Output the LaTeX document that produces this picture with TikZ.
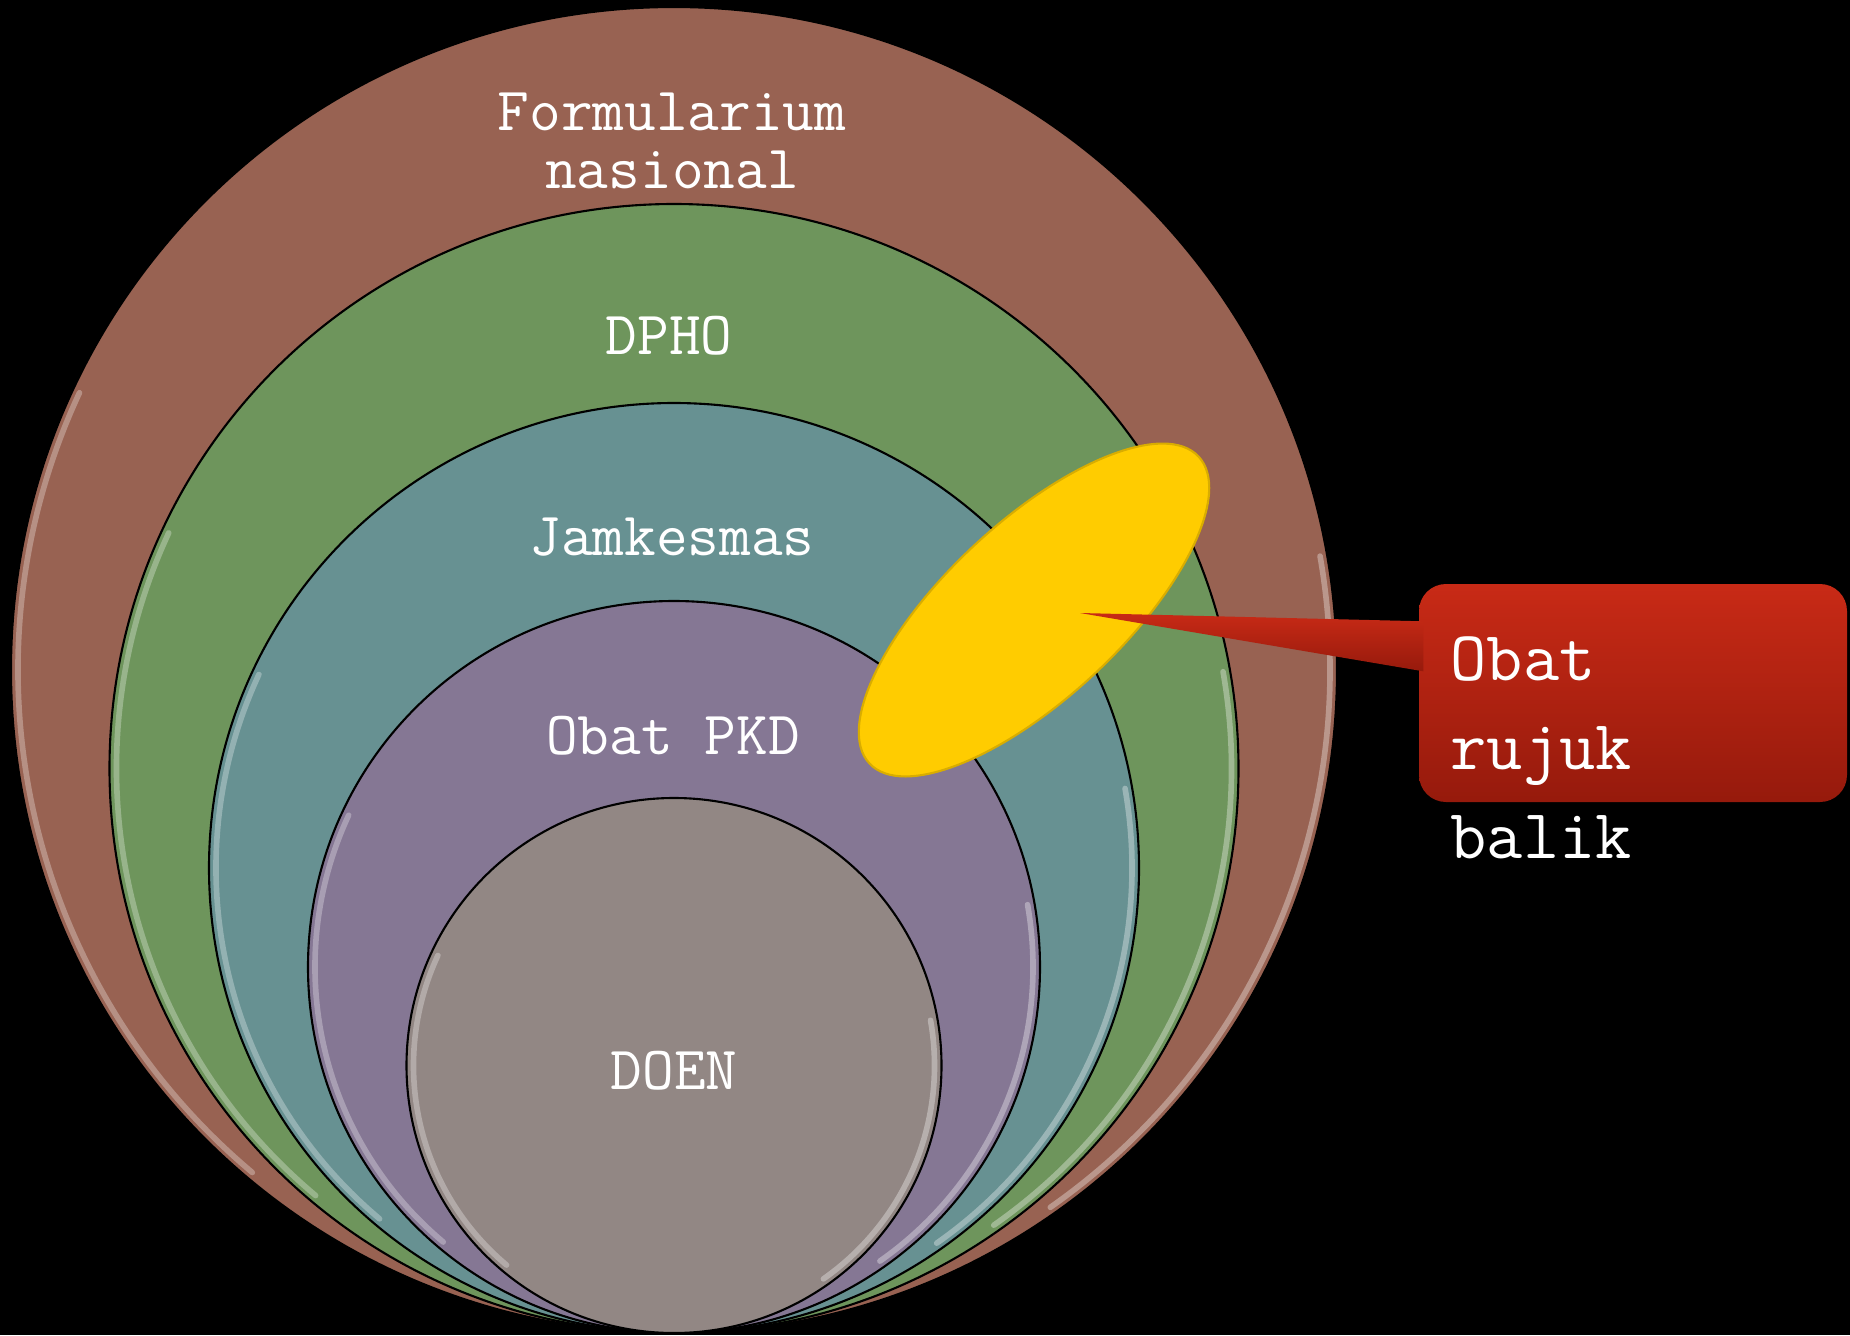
\documentclass[tikz,border=0pt]{standalone}
\usepackage{tikz}
\usetikzlibrary{positioning}
\usetikzlibrary{shapes.geometric}
\usetikzlibrary{calc}

\definecolor{fornasbrown}{RGB}{152,98,82}
\definecolor{dphogreen}{RGB}{110,149,92}
\definecolor{jamkesteal}{RGB}{103,145,146}
\definecolor{pkdpurple}{RGB}{133,119,148}
\definecolor{doengray}{RGB}{146,135,132}
\definecolor{rbyellow}{RGB}{255,204,0}
\definecolor{rbredtop}{RGB}{200,42,22}
\definecolor{rbredbot}{RGB}{150,26,12}

\tikzset{
  rim/.style={line width=1.6pt,opacity=0.45,line cap=round},
  lbl/.style={text=white,inner sep=0pt,font=\fontsize{17.5}{16.5}\selectfont\ttfamily},
  rblbl/.style={text=white,inner sep=0pt,align=left,font=\fontsize{20}{25.3}\selectfont\ttfamily}
}

\begin{document}
\begin{tikzpicture}
    \fill[black] (0,0) rectangle (18.5,13.35);
    \useasboundingbox (0,0) rectangle (18.5,13.35);
	\foreach \r/\c in {6.63/fornasbrown,5.645/dphogreen,4.65/jamkesteal,3.66/pkdpurple,2.675/doengray} % circles touch at the bottom
	{
	\pgfmathsetmacro\cy{0.02+\r}
	\pgfmathsetmacro\rr{\r-0.07}
	\filldraw[fill=\c,draw=black,line width=0.6pt] (6.74,\cy) circle (\r);
	\draw[rim,\c!35!white] (6.74,\cy) ++(155:\rr) arc[start angle=155,end angle=230,radius=\rr];
	\draw[rim,\c!25!white] (6.74,\cy) ++(-55:\rr) arc[start angle=-55,end angle=10,radius=\rr];
	}
	\node[lbl,align=center,anchor=base] (fornas) at (6.72,11.47) {Formularium\\nasional};
	\node[lbl,anchor=base] (dpho) at (6.69,9.81) {DPHO};
	\node[lbl,anchor=base] (jamkes) at (6.72,7.80) {Jamkesmas};
	\node[lbl,anchor=base] (pkd) at (6.73,5.81) {Obat PKD};
	\node[lbl,anchor=base] (doen) at (6.74,2.46) {DOEN};
	\node[ellipse,fill=rbyellow,draw=rbyellow!85!black,line width=0.6pt,minimum width=4.5cm,minimum height=1.76cm,inner sep=0pt,rotate=43] (rb) at (10.34,7.25) {};
	\node[rounded corners=0.27cm,top color=rbredtop,bottom color=rbredbot,minimum width=4.28cm,minimum height=2.18cm,inner sep=0pt] (box) at (16.33,6.42) {};
	\coordinate (tip) at (10.80,7.22);
	\shade[top color=rbredtop,bottom color=rbredbot] (tip) -- ($(box.north west)+(0.05,-0.38)$) -- ($(box.north west)+(0.05,-0.88)$) -- cycle;
	\node[rblbl,anchor=base west] (rbtext) at (14.50,4.77) {Obat\\rujuk\\balik};
\end{tikzpicture}
\end{document}
